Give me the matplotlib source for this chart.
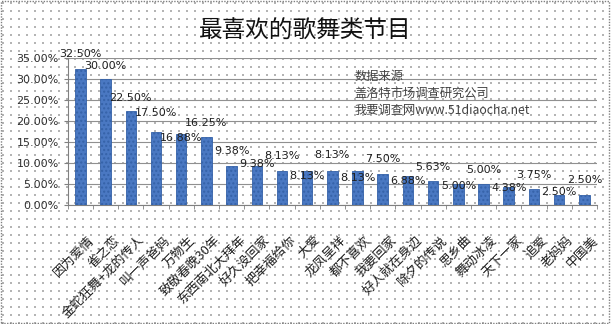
import numpy as np
import matplotlib
matplotlib.use('Agg')
import matplotlib.pyplot as plt
import matplotlib.transforms as mtransforms
from matplotlib.patches import Rectangle
from matplotlib.ticker import FuncFormatter

plt.rcParams['font.family'] = ['Noto Sans CJK SC', 'DejaVu Sans']
plt.rcParams['hatch.color'] = '#6f97d6'

categories = ['因为爱情', '雀之恋', '金蛇狂舞+龙的传人', '叫一声爸妈', '万物生',
              '致敬春晚30年', '东西南北大拜年', '好久没回家', '把幸福给你', '大爱',
              '龙凤呈祥', '都不喜欢', '我要回家', '好人就在身边', '除夕的传说',
              '思乡曲', '舞动冰凌', '天下一家', '追爱', '老妈妈', '中国美']
values = [32.50, 30.00, 22.50, 17.50, 16.88, 16.25, 9.38, 9.38, 8.13, 8.13,
          8.13, 8.13, 7.50, 6.88, 5.63, 5.00, 5.00, 4.38, 3.75, 2.50, 2.50]
# label lift above bar top (percentage points), as placed in the original
label_lift = [3.5, 3.0, 3.0, 4.5, -0.9, 3.2, 3.4, 0.3, 3.6, -1.2,
              3.8, -1.7, 3.5, -1.2, 3.4, -0.5, 3.3, -0.4, 3.4, 0.6, 3.5]
source_lines = ['数据来源', '盖洛特市场调查研究公司', '我要调查网www.51diaocha.net']
title = '最喜欢的歌舞类节目'

fig = plt.figure(figsize=(6.11, 3.24), dpi=100)

# dotted background pattern like the excel fill
bg = fig.add_axes([0, 0, 1, 1], zorder=-5)
gx, gy = np.meshgrid(np.arange(3, 611, 8), np.arange(3, 324, 8))
bg.scatter(gx.ravel(), gy.ravel(), s=0.55, c='#b4b4b4', marker='s', linewidths=0)
bg.set_xlim(0, 611)
bg.set_ylim(324, 0)
bg.axis('off')
fig.add_artist(Rectangle((0.002, 0.004), 0.995, 0.992, transform=fig.transFigure,
                         fill=False, ec='#808080', lw=1.0, ls=(0, (1, 1))))

ax = fig.add_axes([0.111, 0.367, 0.866, 0.454])
ax.patch.set_alpha(0)
x = np.arange(len(categories))
ax.bar(x, values, width=0.42, color='#4a78c2', edgecolor='#3562a8', lw=0.6,
       hatch='....', zorder=3)

for xi, v, lift in zip(x, values, label_lift):
    ax.text(xi, v + lift, f'{v:.2f}%', ha='center', va='center', fontsize=8,
            color='#202020', family='DejaVu Sans', zorder=4)

ax.set_xlim(-0.5, len(categories) - 0.5)
ax.set_ylim(0, 35)
ax.set_yticks(np.arange(0, 36, 5))
ax.yaxis.set_major_formatter(FuncFormatter(lambda v, p: f'{v:.2f}%'))
ax.grid(axis='y', color='#909090', lw=0.8, zorder=0)
ax.set_xticks(x)
ax.set_xticklabels(categories, rotation=45, ha='right', rotation_mode='anchor',
                   fontsize=9.3, color='#202020')
ax.set_xticks(np.arange(-0.5, len(categories), 1), minor=True)
ax.tick_params(axis='x', which='major', length=0, pad=11)
ax.tick_params(axis='x', which='minor', length=3, color='#808080')
ax.tick_params(axis='y', length=3, color='#808080', labelsize=8, labelcolor='#303030')
shift = mtransforms.ScaledTranslation(0.07, -0.13, fig.dpi_scale_trans)
for lab in ax.get_xticklabels():
    lab.set_transform(lab.get_transform() + shift)
for lab in ax.get_yticklabels():
    lab.set_family('DejaVu Sans')
for side in ['top', 'right']:
    ax.spines[side].set_visible(False)
for side in ['left', 'bottom']:
    ax.spines[side].set_color('#808080')

fig.text(0.5, 0.904, title, ha='center', va='center', fontsize=17,
         fontweight='medium', color='#101010')
fig.text(0.581, 0.713, '\n'.join(source_lines), ha='left', va='center',
         fontsize=8.8, color='#404040', linespacing=1.4)

fig.savefig('out.png', dpi=100)
